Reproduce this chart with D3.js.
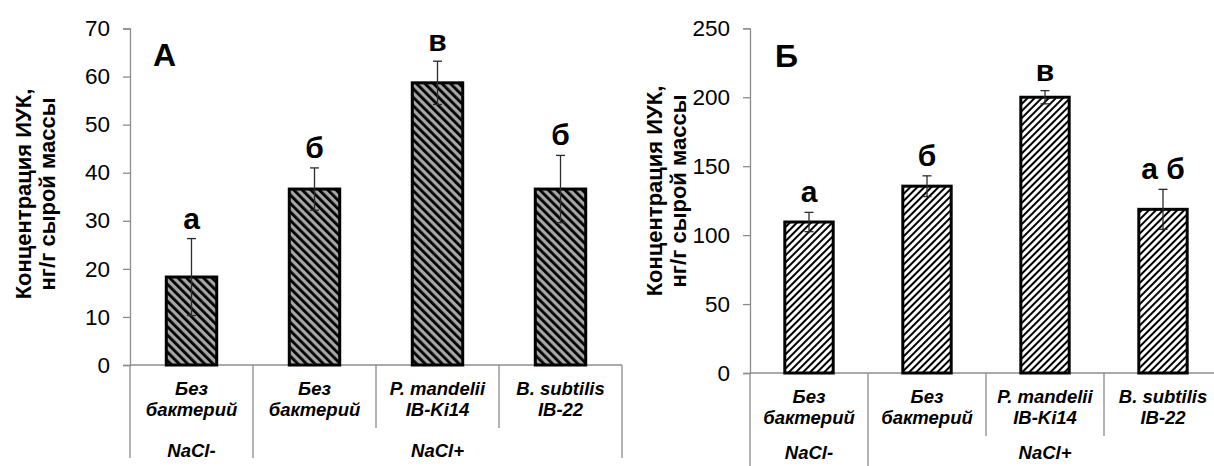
<!DOCTYPE html>
<html>
<head>
<meta charset="utf-8">
<script src="https://cdn.jsdelivr.net/npm/d3@7/dist/d3.min.js"></script>
<style>
  html, body { margin: 0; padding: 0; background: #fff; }
  svg { display: block; font-family: "Liberation Sans", Arial, sans-serif; }
</style>
</head>
<body>
<svg id="chart" width="1214" height="466"></svg>
<script>
// Categories (two text lines each) and their salt-treatment groups
const categoryLines = [
  ["Без", "бактерий"],
  ["Без", "бактерий"],
  ["P. mandelii", "IB-Ki14"],
  ["B. subtilis", "IB-22"]
];
const groupLabels = ["NaCl-", "NaCl+"];
const groupSizes = [1, 3];

// Panel А: IAA concentration, ng/g fresh weight
const valuesA = [18.3, 36.6, 58.7, 36.6];
const errorsA = [8.0, 4.4, 4.5, 7.0];
const lettersA = ["а", "б", "в", "б"];
const ticksA = [0, 10, 20, 30, 40, 50, 60, 70];

// Panel Б
const valuesB = [109.5, 135.5, 200.0, 118.7];
const errorsB = [7.0, 7.5, 4.8, 14.5];
const lettersB = ["а", "б", "в", "а б"];
const ticksB = [0, 50, 100, 150, 200, 250];

const yTitleLines = ["Концентрация ИУК,", "нг/г сырой массы"];

const svg = d3.select("#chart");
const defs = svg.append("defs");

// hatch fills: dark stripes on grey (А) and on white (Б)
function hatch(id, bg, period, thick, angle) {
  const p = defs.append("pattern")
    .attr("id", id)
    .attr("patternUnits", "userSpaceOnUse")
    .attr("width", period).attr("height", period)
    .attr("patternTransform", `rotate(${angle})`);
  p.append("rect").attr("width", period).attr("height", period).attr("fill", bg);
  p.append("rect").attr("width", thick).attr("height", period).attr("fill", "#000");
}
hatch("hatchA", "#a6a6a6", 6, 2.8, -45);
hatch("hatchB", "#ffffff", 5, 2.0, 45);

const axisColor = "#8c8c8c";

function drawPanel(cfg) {
  const g = svg.append("g");
  const n = cfg.values.length;
  const x = d3.scaleBand().domain(d3.range(n)).range([cfg.x0, cfg.x1]).padding(0);
  const y = d3.scaleLinear().domain([0, cfg.ticks[cfg.ticks.length - 1]]).range([cfg.yBase, cfg.yTop]);
  const bw = x.bandwidth() * 0.41;

  // value axis
  const yAxis = d3.axisLeft(y).tickValues(cfg.ticks).tickSize(7).tickPadding(13);
  const ya = g.append("g").attr("transform", `translate(${cfg.x0},0)`).call(yAxis);
  ya.select(".domain").attr("stroke", axisColor).attr("stroke-width", 1.3);
  ya.selectAll(".tick line").attr("stroke", axisColor).attr("stroke-width", 1.3);
  ya.selectAll(".tick text")
    .attr("font-size", 22.5).attr("fill", "#000")
    .attr("font-family", "Liberation Sans, Arial, sans-serif");

  // category baseline
  g.append("line")
    .attr("x1", cfg.x0).attr("x2", cfg.x1)
    .attr("y1", cfg.yBase).attr("y2", cfg.yBase)
    .attr("stroke", axisColor).attr("stroke-width", 1.3);

  // dividers: long ones at group edges, short ones between categories
  const groupEdges = [0];
  groupSizes.forEach((s, i) => groupEdges.push(groupEdges[i] + s));
  d3.range(n + 1).forEach(i => {
    const xp = i < n ? x(i) : cfg.x1;
    const isGroup = groupEdges.includes(i);
    g.append("line")
      .attr("x1", xp).attr("x2", xp)
      .attr("y1", cfg.yBase).attr("y2", cfg.yBase + (isGroup ? 93 : 63))
      .attr("stroke", axisColor).attr("stroke-width", 1.3);
  });

  // bars
  g.selectAll("rect.bar").data(cfg.values).join("rect")
    .attr("class", "bar")
    .attr("x", (d, i) => x(i) + x.bandwidth() / 2 - bw / 2)
    .attr("width", bw)
    .attr("y", d => y(d))
    .attr("height", d => y(0) - y(d))
    .attr("fill", `url(#${cfg.pattern})`)
    .attr("stroke", "#000").attr("stroke-width", 3);

  // error bars
  const eb = g.selectAll("g.err").data(cfg.values).join("g").attr("class", "err");
  const cx = i => x(i) + x.bandwidth() / 2;
  eb.append("line")
    .attr("x1", (d, i) => cx(i)).attr("x2", (d, i) => cx(i))
    .attr("y1", (d, i) => y(d - cfg.errors[i])).attr("y2", (d, i) => y(d + cfg.errors[i]));
  eb.append("line")
    .attr("x1", (d, i) => cx(i) - 4.5).attr("x2", (d, i) => cx(i) + 4.5)
    .attr("y1", (d, i) => y(d + cfg.errors[i])).attr("y2", (d, i) => y(d + cfg.errors[i]));
  eb.append("line")
    .attr("x1", (d, i) => cx(i) - 4.5).attr("x2", (d, i) => cx(i) + 4.5)
    .attr("y1", (d, i) => y(d - cfg.errors[i])).attr("y2", (d, i) => y(d - cfg.errors[i]));
  eb.selectAll("line").attr("stroke", "#2b2b2b").attr("stroke-width", 1.3);

  // significance letters
  g.selectAll("text.sig").data(cfg.letters).join("text")
    .attr("class", "sig")
    .attr("x", (d, i) => cx(i))
    .attr("y", (d, i) => y(cfg.values[i] + cfg.errors[i]) - 10)
    .attr("text-anchor", "middle")
    .attr("font-size", 30).attr("font-weight", "bold")
    .text(d => d);

  // category labels
  categoryLines.forEach((lines, i) => {
    lines.forEach((t, k) => {
      g.append("text")
        .attr("x", cx(i))
        .attr("y", cfg.yBase + 30 + k * 21)
        .attr("text-anchor", "middle")
        .attr("font-size", 18.5).attr("font-weight", "bold").attr("font-style", "italic")
        .text(t);
    });
  });

  // group labels
  groupLabels.forEach((t, j) => {
    const a = x(groupEdges[j]);
    const b = groupEdges[j + 1] < n ? x(groupEdges[j + 1]) : cfg.x1;
    g.append("text")
      .attr("x", (a + b) / 2)
      .attr("y", Math.min(cfg.yBase + 92, 459))
      .attr("text-anchor", "middle")
      .attr("font-size", 18.5).attr("font-weight", "bold").attr("font-style", "italic")
      .text(t);
  });

  // panel letter
  g.append("text")
    .attr("x", cfg.tagX).attr("y", cfg.tagY)
    .attr("font-size", 32).attr("font-weight", "bold")
    .text(cfg.tag);

  // value-axis title
  yTitleLines.forEach((t, k) => {
    g.append("text")
      .attr("transform", `translate(${cfg.titleX + k * 24},${cfg.titleY}) rotate(-90)`)
      .attr("text-anchor", "middle")
      .attr("font-size", 22).attr("font-weight", "bold")
      .text(t);
  });
}

drawPanel({
  values: valuesA, errors: errorsA, letters: lettersA, ticks: ticksA,
  x0: 130, x1: 622, yBase: 365, yTop: 28.5,
  pattern: "hatchA", tag: "А", tagX: 153, tagY: 66,
  titleX: 31, titleY: 194
});

drawPanel({
  values: valuesB, errors: errorsB, letters: lettersB, ticks: ticksB,
  x0: 750, x1: 1222, yBase: 373, yTop: 28.3,
  pattern: "hatchB", tag: "Б", tagX: 775, tagY: 67,
  titleX: 662, titleY: 191
});
</script>
</body>
</html>
